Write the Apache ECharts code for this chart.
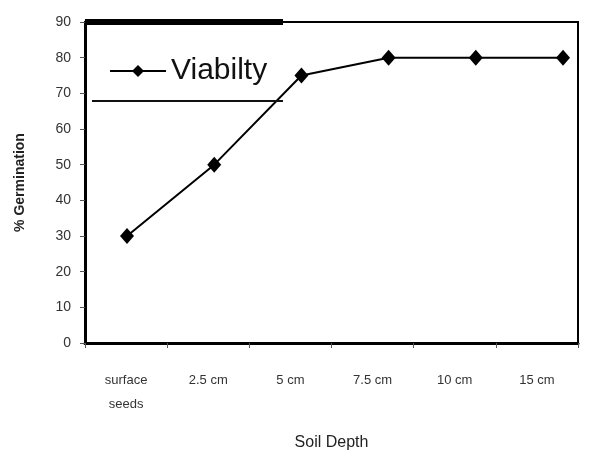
<!DOCTYPE html>
<html>
<head>
<meta charset="utf-8">
<script src="https://cdn.jsdelivr.net/npm/echarts@6/dist/echarts.min.js"></script>
<style>html,body{margin:0;padding:0;background:#fff}#c{width:606px;height:457px}</style>
</head>
<body>
<div id="c"></div>
<script>
var categories = ["surface\nseeds", "2.5 cm", "5 cm", "7.5 cm", "10 cm", "15 cm"];
var viability = [30, 50, 75, 80, 80, 80];
var yTicks = [0, 10, 20, 30, 40, 50, 60, 70, 80, 90];
var seriesName = "Viabilty";

var chart = echarts.init(document.getElementById('c'));
chart.setOption({
  animation: false,
  backgroundColor: '#fff',
  grid: { left: 85, right: 28, top: 22, bottom: 114, show: true, borderColor: '#000', borderWidth: 2, backgroundColor: 'transparent' },
  legend: {
    left: 104, top: 51, itemWidth: 56, itemHeight: 15, itemGap: 8,
    data: [seriesName],
    textStyle: { fontFamily: 'Liberation Sans', fontSize: 30, color: '#111' }
  },
  xAxis: [
    {
      type: 'category', data: categories, boundaryGap: true, position: 'bottom',
      axisLine: { onZero: false, lineStyle: { color: '#000', width: 3 } },
      axisTick: { show: true, interval: 0, length: 5, lineStyle: { color: '#555', width: 1 } },
      axisLabel: { interval: 0, margin: 25, fontFamily: 'Liberation Sans', fontSize: 13, color: '#333', lineHeight: 24 },
      name: 'Soil Depth', nameLocation: 'middle', nameGap: 92,
      nameTextStyle: { fontFamily: 'Liberation Sans', fontSize: 16, color: '#222' }
    },
    { type: 'value', min: -0.482, max: 5.172, show: false }
  ],
  yAxis: {
    type: 'value', min: yTicks[0], max: yTicks[yTicks.length - 1], interval: 10,
    axisLine: { show: true, onZero: false, lineStyle: { color: '#000', width: 3 } },
    axisTick: { show: true, length: 5, lineStyle: { color: '#555', width: 1 } },
    splitLine: { show: false },
    axisLabel: { margin: 14, fontFamily: 'Liberation Sans', fontSize: 14, color: '#333' },
    name: '% Germination', nameLocation: 'middle', nameGap: 58,
    nameTextStyle: { fontFamily: 'Liberation Sans', fontSize: 14, fontWeight: 'bold', color: '#222' }
  },
  series: [{
    name: seriesName, type: 'line', xAxisIndex: 1,
    data: viability.map(function (v, i) { return [i, v]; }),
    symbol: 'diamond', symbolSize: [14, 16],
    lineStyle: { color: '#000', width: 2 },
    itemStyle: { color: '#000' }
  }],
  graphic: [
    { type: 'line', shape: { x1: 85, y1: 22, x2: 283, y2: 22 }, style: { stroke: '#000', lineWidth: 6 }, z: 10 },
    { type: 'line', shape: { x1: 92, y1: 101, x2: 283, y2: 101 }, style: { stroke: '#111', lineWidth: 2 }, z: 10 }
  ]
});
</script>
</body>
</html>
